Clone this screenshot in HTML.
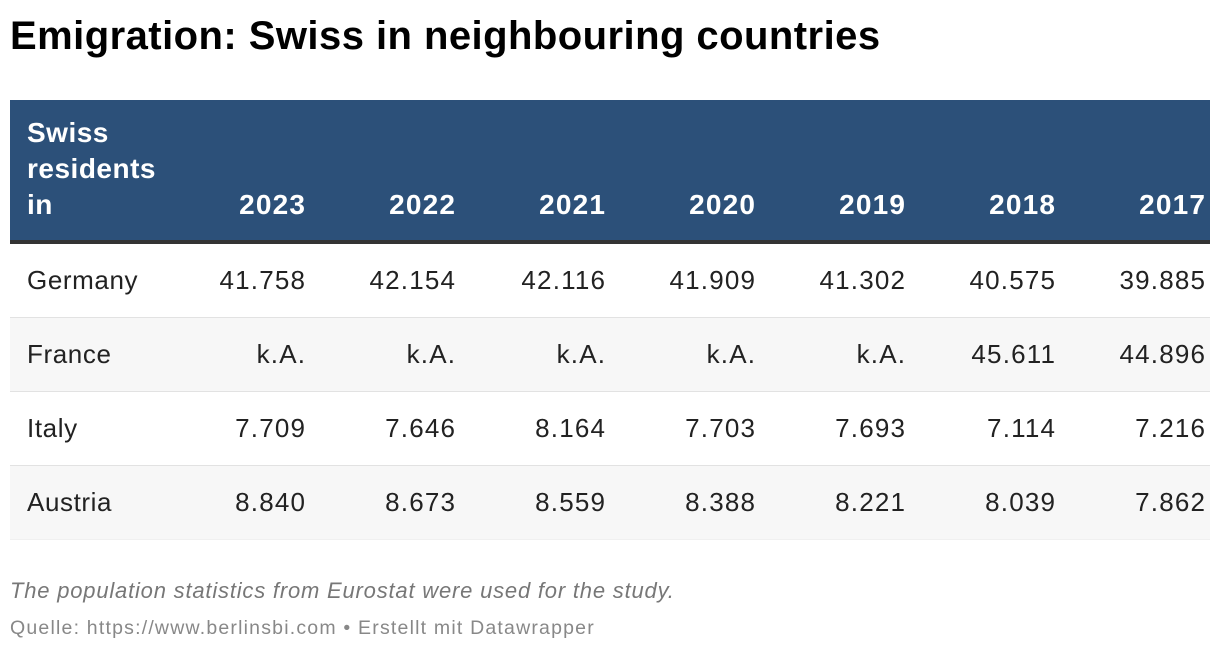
<!DOCTYPE html>
<html><head><meta charset="utf-8"><style>
body{margin:0;width:1220px;height:652px;background:#fff;font-family:"Liberation Sans",sans-serif;position:relative;overflow:hidden}
h1{position:absolute;left:10px;top:14px;margin:0;font-size:40px;font-weight:bold;color:#000;letter-spacing:0.45px}
#tbl{position:absolute;left:10px;top:100px;width:1200px}
.hdr{position:relative;height:140px;background:#2c5079;border-bottom:4px solid #333}
.hc{position:absolute;bottom:17px;color:#fff;font-weight:bold;font-size:28px;line-height:36px;text-align:right;width:150px;letter-spacing:1.2px}
.row{position:relative;height:73px;border-bottom:1px solid #e2e2e2}
.row.alt{background:#f7f7f7}
.row.last{border-bottom-color:#f0f0f0}
.c{position:absolute;top:0;line-height:73px;font-size:26px;color:#222;text-align:right;width:150px;letter-spacing:1.2px}
.note{position:absolute;left:10px;top:578px;font-style:italic;font-size:22px;color:#777;letter-spacing:0.8px}
.src{position:absolute;left:10px;top:617px;font-size:19.5px;color:#888;letter-spacing:1.2px}
</style></head><body>
<h1>Emigration: Swiss in neighbouring countries</h1>
<div id="tbl">
<div class="hdr">
<div class="hc" style="left:17px;text-align:left;letter-spacing:0.5px">Swiss<br>residents<br>in</div>
</div>
</div>
<div class="note">The population statistics from Eurostat were used for the study.</div>
<div class="src">Quelle: https://www.berlinsbi.com • Erstellt mit Datawrapper</div>
<script>
const years=["2023","2022","2021","2020","2019","2018","2017"];
const countries=["Germany","France","Italy","Austria"];
const germany=["41.758","42.154","42.116","41.909","41.302","40.575","39.885"];
const france=["k.A.","k.A.","k.A.","k.A.","k.A.","45.611","44.896"];
const italy=["7.709","7.646","8.164","7.703","7.693","7.114","7.216"];
const austria=["8.840","8.673","8.559","8.388","8.221","8.039","7.862"];
const values=[germany,france,italy,austria];
const tbl=document.getElementById('tbl');
const hdr=tbl.querySelector('.hdr');
years.forEach((y,i)=>{
  const d=document.createElement('div');d.className='hc';
  d.style.left=(150*(i+1)-5+1.2)+'px';d.textContent=y;
  
  
  hdr.appendChild(d);
});
countries.forEach((c,r)=>{
  const row=document.createElement('div');row.className='row'+(r%2?' alt':'')+(r===countries.length-1?' last':'');
  
  
  const n=document.createElement('div');n.className='c';n.style.left='17px';n.style.textAlign='left';n.style.letterSpacing='0.6px';n.textContent=c;
  
  
  row.appendChild(n);
  values[r].forEach((v,i)=>{
    const d=document.createElement('div');d.className='c';d.style.left=(150*(i+1)-5+1.2)+'px';d.textContent=v;
    
    
    row.appendChild(d);
  });
  tbl.appendChild(row);
});
</script>
</body></html>
